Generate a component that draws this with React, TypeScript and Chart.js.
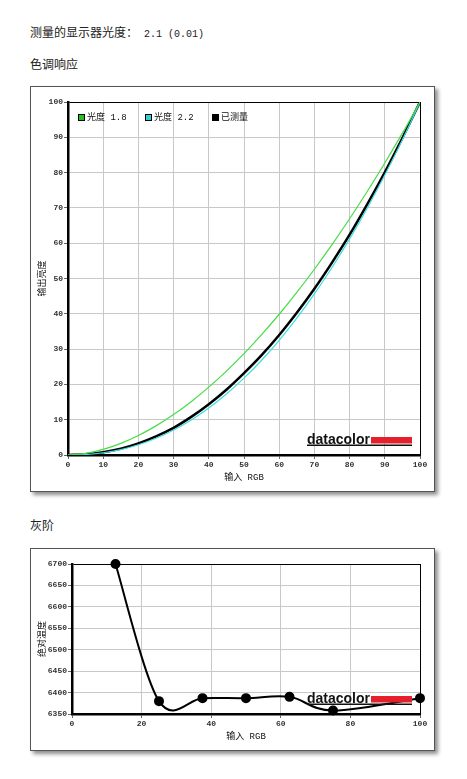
import React, { useEffect, useRef } from "react";
import { Chart, registerables } from "chart.js";

Chart.register(...registerables);

// ---------- Data: tone response ----------
const toneInputs = [0, 5, 10, 15, 20, 25, 30, 35, 40, 45, 50, 55, 60, 65, 70, 75, 80, 85, 90, 95, 100];
const gamma18 = [0, 0.46, 1.58, 3.29, 5.52, 8.25, 11.45, 15.11, 19.22, 23.76, 28.72, 34.09, 39.87, 46.05, 52.62, 59.58, 66.92, 74.64, 82.72, 91.18, 100];
const gamma22 = [0, 0.14, 0.63, 1.54, 2.9, 4.74, 7.08, 9.93, 13.32, 17.26, 21.76, 26.84, 32.5, 38.76, 45.63, 53.11, 61.21, 69.94, 79.31, 89.33, 100];
const measured = [0, 0.2, 0.8, 1.8, 3.3, 5.3, 7.7, 10.8, 14.4, 18.5, 23.2, 28.3, 34.0, 40.3, 47.1, 54.5, 62.4, 71.0, 80.1, 89.8, 100];
const toneLabels = ["光度 1.8", "光度 2.2", "已测量"];
const toneLineColors = ["#45dd45", "#3adede", "#000000"];
const toneLegendColors = ["#1fc41f", "#2ed3d3", "#000000"];

// ---------- Data: gray scale ----------
const grayInputs = [12.5, 25, 37.5, 50, 62.5, 75, 100];
const grayTemps = [6700, 6380, 6387, 6387, 6390, 6358, 6387];

const headingMain = "测量的显示器光度：";
const headingValue = " 2.1 (0.01)";
const headingTone = "色调响应";
const headingGray = "灰阶";

const CURVE_TENSION = 0.5;

const TICK_FONT = { family: "'Liberation Mono', 'DejaVu Sans Mono', monospace", size: 8, weight: "bold" };
const TITLE_FONT = { family: "'Liberation Mono', 'Noto Sans CJK SC', sans-serif", size: 9 };

const logoPlugin = {
  id: "dcLogo",
  afterDatasetsDraw(chart: any) {
    const { ctx, chartArea: a } = chart;
    ctx.save();
    const x0 = a.right - 113;
    ctx.font = "bold 14px 'Liberation Sans', Arial, sans-serif";
    ctx.fillStyle = "#111";
    ctx.textAlign = "left";
    ctx.textBaseline = "alphabetic";
    ctx.fillText("datacolor", x0, a.bottom - 11.5);
    ctx.fillStyle = "#e3202c";
    ctx.fillRect(a.right - 49, a.bottom - 18, 41, 6.5);
    ctx.fillStyle = "#111";
    ctx.fillRect(x0, a.bottom - 10.5, 105, 1.5);
    ctx.restore();
  },
};

// Cardinal (Catmull-Rom style) spline control points, like the original renderer
const cardinalPlugin = {
  id: "cardinal",
  beforeDatasetsDraw(chart: any) {
    chart.getSortedVisibleDatasetMetas().forEach((meta: any) => {
      const pts = meta.data;
      const k = CURVE_TENSION / 3;
      for (let i = 0; i < pts.length; i++) {
        const p = pts[i];
        const prev = pts[i - 1] || p;
        const next = pts[i + 1] || p;
        const dx = (next.x - prev.x) * k;
        const dy = (next.y - prev.y) * k;
        p.cp1x = p.x - dx;
        p.cp1y = p.y - dy;
        p.cp2x = p.x + dx;
        p.cp2y = p.y + dy;
      }
      if (meta.dataset) {
        meta.dataset._pointsUpdated = true;
        meta.dataset._path = undefined;
      }
    });
  },
};

const legendPlugin = {
  id: "innerLegend",
  afterDraw(chart: any) {
    const { ctx, chartArea: a } = chart;
    const offsets = [10, 77, 144];
    ctx.save();
    ctx.font = "9px 'Liberation Mono', 'Noto Sans CJK SC', sans-serif";
    ctx.textAlign = "left";
    ctx.textBaseline = "middle";
    chart.data.datasets.forEach((ds: any, i: number) => {
      const x = a.left + offsets[i];
      const y = a.top + 12;
      ctx.fillStyle = toneLegendColors[i];
      ctx.fillRect(x, y, 7, 7);
      ctx.strokeStyle = "#000";
      ctx.lineWidth = 1;
      ctx.strokeRect(x + 0.5, y + 0.5, 6, 6);
      ctx.fillStyle = "#111";
      ctx.fillText(ds.label, x + 9, y + 4);
    });
    ctx.restore();
  },
};

function gridColor(max: number) {
  return (c: any) => (c.tick && c.tick.value === max ? "#000" : "#c8c8c8");
}

function axis(opts: {
  min: number;
  max: number;
  step: number;
  title: string;
  horizontal: boolean;
  size: number;
}) {
  return {
    type: "linear",
    min: opts.min,
    max: opts.max,
    ticks: {
      stepSize: opts.step,
      font: TICK_FONT,
      color: "#333",
      padding: 1,
      maxRotation: 0,
      autoSkip: false,
      callback: (v: any) => String(v),
    },
    grid: {
      color: gridColor(opts.max),
      lineWidth: 1,
      tickLength: 4,
      tickColor: "#666",
      drawTicks: true,
    },
    border: { display: true, color: "#000", width: 2.5 },
    title: {
      display: true,
      text: opts.title,
      font: TITLE_FONT,
      color: "#111",
      padding: opts.horizontal ? { top: 0, bottom: 8 } : { top: 6, bottom: 0 },
    },
    afterFit: (s: any) => {
      if (opts.horizontal) s.height = opts.size;
      else s.width = opts.size;
    },
  };
}

function ToneChart() {
  const ref = useRef<HTMLCanvasElement>(null);
  useEffect(() => {
    const series = [gamma18, gamma22, measured];
    const chart = new Chart(ref.current!, {
      type: "line",
      data: {
        datasets: series.map((vals, i) => ({
          label: toneLabels[i],
          data: toneInputs.map((x, k) => ({ x, y: vals[k] })),
          borderColor: toneLineColors[i],
          borderWidth: i === 2 ? 2.5 : 1.2,
          pointRadius: 0,
          fill: false,
          cubicInterpolationMode: "monotone",
        })),
      },
      options: {
        animation: false,
        responsive: false,
        events: [],
        layout: { padding: { top: 15, right: 14, left: 0, bottom: 0 } },
        plugins: { legend: { display: false }, tooltip: { enabled: false } },
        scales: {
          x: axis({ min: 0, max: 100, step: 10, title: "输入 RGB", horizontal: true, size: 36 }),
          y: axis({ min: 0, max: 100, step: 10, title: "输出亮度", horizontal: false, size: 37 }),
        },
      } as any,
      plugins: [logoPlugin, legendPlugin],
    });
    return () => chart.destroy();
  }, []);
  return <canvas ref={ref} width={403} height={404} style={{ display: "block" }} />;
}

function GrayChart() {
  const ref = useRef<HTMLCanvasElement>(null);
  useEffect(() => {
    const chart = new Chart(ref.current!, {
      type: "line",
      data: {
        datasets: [
          {
            label: "绝对温度",
            data: grayInputs.map((x, k) => ({ x, y: grayTemps[k] })),
            borderColor: "#000",
            borderWidth: 2,
            pointRadius: 4,
            pointBackgroundColor: "#000",
            pointBorderColor: "#000",
            tension: CURVE_TENSION,
            fill: false,
            clip: false,
          },
        ],
      },
      options: {
        animation: false,
        responsive: false,
        events: [],
        layout: { padding: { top: 15, right: 14, left: 0, bottom: 0 } },
        plugins: { legend: { display: false }, tooltip: { enabled: false } },
        scales: {
          x: axis({ min: 0, max: 100, step: 20, title: "输入 RGB", horizontal: true, size: 36 }),
          y: axis({ min: 6350, max: 6700, step: 50, title: "绝对温度", horizontal: false, size: 41 }),
        },
      } as any,
      plugins: [cardinalPlugin, logoPlugin],
    });
    return () => chart.destroy();
  }, []);
  return <canvas ref={ref} width={403} height={201} style={{ display: "block" }} />;
}

const headingStyle: React.CSSProperties = {
  position: "absolute",
  left: 22,
  fontFamily: "'Noto Sans CJK SC', sans-serif",
  fontSize: 12,
  lineHeight: "12px",
  color: "#222",
  whiteSpace: "pre",
  margin: 0,
};

const boxStyle: React.CSSProperties = {
  position: "absolute",
  left: 22,
  border: "1px solid #555",
  background: "#fff",
  boxShadow: "3px 3px 4px rgba(0,0,0,0.45)",
};

export default function App() {
  return (
    <div style={{ position: "relative", width: 451, height: 763, background: "#fff" }}>
      <div style={{ ...headingStyle, top: 18 }}>
        {headingMain}
        <span style={{ fontFamily: "'Liberation Mono', monospace", fontSize: 10 }}>{headingValue}</span>
      </div>
      <div style={{ ...headingStyle, top: 49.5 }}>{headingTone}</div>
      <div style={{ ...boxStyle, top: 78, width: 403, height: 404 }}>
        <ToneChart />
      </div>
      <div style={{ ...headingStyle, top: 510.5 }}>{headingGray}</div>
      <div style={{ ...boxStyle, top: 540, width: 403, height: 201 }}>
        <GrayChart />
      </div>
    </div>
  );
}
